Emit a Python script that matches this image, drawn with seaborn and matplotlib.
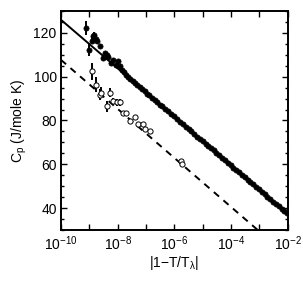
import numpy as np
import pandas as pd
import matplotlib
matplotlib.use("Agg")
import matplotlib.pyplot as plt
import matplotlib.ticker as mticker
import seaborn as sns

# filled points (exponent of |1-T/T_lambda|, Cp, error)
filled_exp = [-9.10, -9.00, -8.92, -8.88, -8.85, -8.82, -8.78, -8.74, -8.63, -8.51,
              -8.45, -8.39, -8.33, -8.24, -8.16, -8.06, -7.98, -7.92, -7.85, -7.78,
              -7.70, -7.62, -7.55, -7.46, -7.38, -7.30, -7.22, -7.14, -7.05, -6.96,
              -6.88, -6.78, -6.70, -6.60, -6.50, -6.42, -6.32, -6.22, -6.12, -6.02,
              -5.92, -5.80, -5.70, -5.60, -5.50, -5.40, -5.30, -5.20, -5.10, -5.00,
              -4.90, -4.80, -4.72, -4.62, -4.52, -4.42, -4.32, -4.22, -4.12, -4.02,
              -3.92, -3.82, -3.72, -3.62, -3.52, -3.42, -3.32, -3.22, -3.12, -3.02,
              -2.92, -2.82, -2.72, -2.62, -2.52, -2.42, -2.32, -2.22, -2.12, -2.04]
filled_cp = [122.1, 112.3, 116.5, 118.5, 117.6, 119.0, 117.0, 116.2, 113.8, 108.5,
             110.8, 109.9, 109.2, 106.4, 107.7, 105.5, 107.0, 105.0, 103.2, 102.0,
             100.8, 99.8, 99.0, 98.2, 97.0, 96.2, 95.3, 94.2, 93.4, 92.3,
             91.6, 90.4, 89.3, 88.4, 87.1, 86.4, 85.3, 84.1, 82.9, 81.9,
             80.6, 79.4, 78.4, 77.1, 76.1, 75.0, 73.9, 72.6, 71.6, 70.5,
             69.3, 68.3, 67.3, 66.3, 65.1, 64.1, 63.0, 61.8, 60.7, 59.6,
             58.5, 57.4, 56.3, 55.2, 54.1, 53.0, 51.9, 50.8, 49.6, 48.5,
             47.4, 46.3, 45.2, 44.1, 43.0, 41.9, 40.8, 39.7, 38.5, 37.6]
filled_err = [3.2, 3.0, 1.5, 1.2, 1.2, 1.5, 1.2, 1.0, 0.8, 0.8] + [0.0] * 70

# open points
open_exp = [-8.92, -8.77, -8.63, -8.57, -8.39, -8.27, -8.16, -8.04, -7.92, -7.81,
            -7.71, -7.57, -7.39, -7.28, -7.12, -7.04, -6.87, -5.75, -5.74]
open_cp = [102.4, 96.4, 91.8, 92.6, 86.5, 92.6, 88.8, 88.3, 88.3, 83.5,
           83.5, 79.7, 81.7, 78.2, 78.2, 75.9, 75.1, 61.5, 60.0]
open_err = [4.0, 3.5, 2.5, 2.5, 2.5, 2.0, 1.5, 1.5, 1.5, 1.0,
            1.0, 1.0, 0.5, 0.5, 0.5, 0.0, 0.0, 0.0, 0.0]

# fitted lines (endpoints)
fit_t = [1e-10, 1e-2]
fit_solid = [126.0, 37.2]
fit_dashed = [107.7, 18.1]

sns.set_style("ticks")
plt.rcParams["font.family"] = ["Liberation Sans", "DejaVu Sans"]
plt.rcParams["mathtext.fontset"] = "custom"
plt.rcParams["mathtext.rm"] = "Liberation Sans"
plt.rcParams["mathtext.it"] = "Liberation Sans"
plt.rcParams["text.color"] = "black"
plt.rcParams["axes.labelcolor"] = "black"

fig = plt.figure(figsize=(3.03, 2.81), dpi=100)
ax = fig.add_axes([0.201, 0.1815, 0.749, 0.7795])

filled = pd.DataFrame({"t": 10.0 ** np.array(filled_exp), "cp": filled_cp, "err": filled_err})
opened = pd.DataFrame({"t": 10.0 ** np.array(open_exp), "cp": open_cp, "err": open_err})

sns.lineplot(x=fit_t, y=fit_solid, color="black", lw=1.4, ax=ax)
sns.lineplot(x=fit_t, y=fit_dashed, color="black", lw=1.4, ax=ax)
ax.lines[-1].set_dashes([3.5, 3])

ax.errorbar(filled["t"], filled["cp"], yerr=filled["err"], fmt="none",
            ecolor="black", elinewidth=1.4, capsize=0)
ax.errorbar(opened["t"], opened["cp"], yerr=opened["err"], fmt="none",
            ecolor="black", elinewidth=1.4, capsize=0)
sns.scatterplot(data=filled, x="t", y="cp", color="black", s=14,
                edgecolor="black", linewidth=0.5, ax=ax, zorder=3)
sns.scatterplot(data=opened, x="t", y="cp", facecolor="white", s=14,
                edgecolor="black", linewidth=0.7, ax=ax, zorder=3)

ax.set_xscale("log")
ax.set_xlim(1e-10, 1e-2)
ax.set_ylim(30, 130)

decades = [10.0 ** e for e in range(-10, -1)]
ax.set_xticks(decades)
ax.set_xticklabels([f"$10^{{{e}}}$" if e % 2 == 0 else "" for e in range(-10, -1)])
ax.xaxis.set_minor_locator(mticker.NullLocator())
ax.set_yticks([40, 60, 80, 100, 120])
ax.yaxis.set_minor_locator(mticker.MultipleLocator(5))

ax.tick_params(which="both", direction="in", top=True, right=True, width=1.0,
               labelsize=10, colors="black", pad=3)
ax.tick_params(which="major", length=4)
ax.tick_params(which="minor", length=2)
for s in ax.spines.values():
    s.set_linewidth(1.4)
    s.set_color("black")

ax.set_xlabel(r"|1$-$T/T$_\lambda$|", fontsize=10, labelpad=1)
ax.set_ylabel(r"C$_\mathrm{p}$ (J/mole K)", fontsize=10, labelpad=3)

fig.savefig("out.png", dpi=100)
